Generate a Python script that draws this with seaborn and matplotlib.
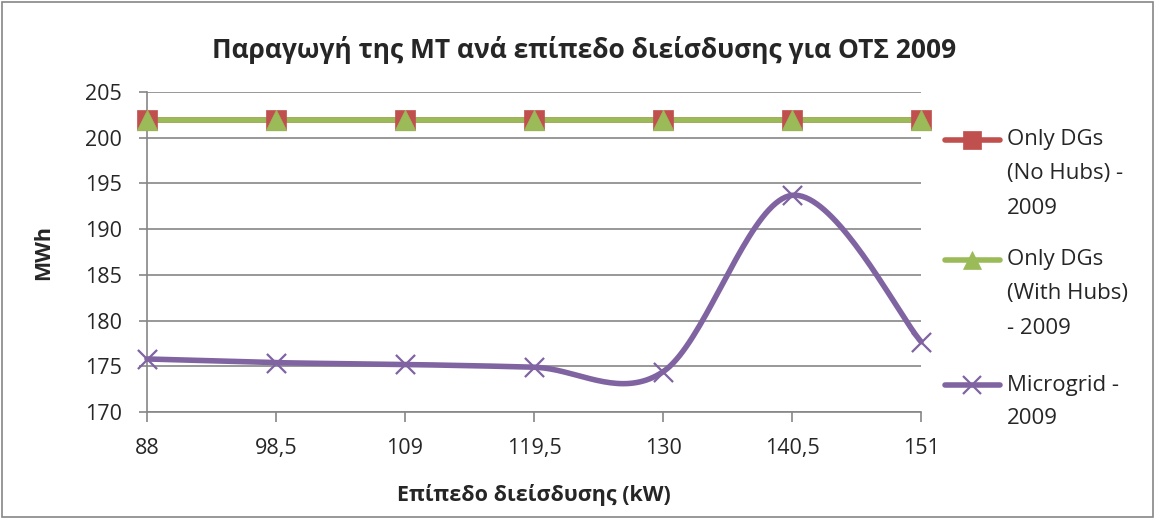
import numpy as np
import pandas as pd
import matplotlib.pyplot as plt
import seaborn as sns
from matplotlib.lines import Line2D
from matplotlib.patches import Rectangle

categories = ["88", "98,5", "109", "119,5", "130", "140,5", "151"]
no_hubs = [201.9, 201.9, 201.9, 201.9, 201.9, 201.9, 201.9]
with_hubs = [201.9, 201.9, 201.9, 201.9, 201.9, 201.9, 201.9]
microgrid = [175.8, 175.4, 175.2, 174.9, 174.4, 193.7, 177.7]

series_names = ["Only DGs\n(No Hubs) -\n2009", "Only DGs\n(With Hubs)\n- 2009", "Microgrid -\n2009"]
colors = ["#C0504D", "#9BBB59", "#8064A2"]
markers = ["s", "^", "x"]

df = pd.DataFrame({"pos": np.arange(len(categories)), "cat": categories,
                   series_names[0]: no_hubs, series_names[1]: with_hubs,
                   series_names[2]: microgrid})
long = df.melt(id_vars=["pos", "cat"], var_name="series", value_name="MWh")


def excel_smooth(x, y, n=40):
    # Excel-style smoothed line: Bezier segments with Catmull-Rom control points
    x = np.asarray(x, float)
    y = np.asarray(y, float)
    px = np.concatenate([[x[0]], x, [x[-1]]])
    py = np.concatenate([[y[0]], y, [y[-1]]])
    ox, oy = [], []
    t = np.linspace(0, 1, n)
    for i in range(1, len(px) - 2):
        p0 = np.array([px[i], py[i]])
        p3 = np.array([px[i + 1], py[i + 1]])
        p1 = p0 + (np.array([px[i + 1], py[i + 1]]) - np.array([px[i - 1], py[i - 1]])) / 6
        p2 = p3 - (np.array([px[i + 2], py[i + 2]]) - np.array([px[i], py[i]])) / 6
        b = ((1 - t) ** 3)[:, None] * p0 + (3 * (1 - t) ** 2 * t)[:, None] * p1 \
            + (3 * (1 - t) * t ** 2)[:, None] * p2 + (t ** 3)[:, None] * p3
        ox.extend(b[:, 0])
        oy.extend(b[:, 1])
    return np.array(ox), np.array(oy)


sns.set_style("white")
plt.rcParams['font.family'] = ['Open Sans', 'DejaVu Sans']

W, H = 1155, 519
fig = plt.figure(figsize=(W / 100, H / 100), dpi=100)
ax = fig.add_axes([147 / W, 1 - 412 / H, (921 - 147) / W, (412 - 92) / H])

for name, c, m in zip(series_names, colors, markers):
    sub = long[long["series"] == name]
    sx, sy = excel_smooth(sub["pos"], sub["MWh"])
    ax.plot(sx, sy, color=c, lw=4, solid_capstyle="round", zorder=3)
    if m == "x":
        sns.scatterplot(x=sub["pos"], y=sub["MWh"], ax=ax, marker="x", s=190,
                        color=c, linewidth=1.6, zorder=4, legend=False)
    else:
        sns.scatterplot(x=sub["pos"], y=sub["MWh"], ax=ax, marker=m, s=220,
                        color=c, edgecolor=c, linewidth=0.5, zorder=4, legend=False)

ax.set_xlim(0, len(categories) - 1)
ax.set_ylim(170, 205)
ax.set_yticks(np.arange(170, 206, 5))
ax.set_xticks(np.arange(len(categories)))
ax.set_xticklabels(categories)
ax.yaxis.grid(True, color="#868686", lw=1.2)
ax.xaxis.grid(False)
for s in ["top", "right"]:
    ax.spines[s].set_visible(False)
for s in ["left", "bottom"]:
    ax.spines[s].set_color("#868686")
    ax.spines[s].set_linewidth(1.2)
ax.tick_params(axis="x", length=7, color="#868686", width=1.2, labelsize=15.5, pad=12, direction="out", bottom=True)
ax.tick_params(axis="y", length=6, color="#868686", width=1.2, labelsize=15.5, pad=12, direction="out", left=True)
for coll in ax.collections + ax.lines:
    coll.set_clip_on(False)

ax.set_xlabel("Επίπεδο διείσδυσης (kW)", fontsize=15.5, fontweight="bold", labelpad=18)
ax.set_ylabel("MWh", fontsize=15.5, fontweight="bold", labelpad=22)
fig.text(0.506, 1 - 50 / H, "Παραγωγή της ΜΤ ανά επίπεδο διείσδυσης για ΟΤΣ 2009",
         ha="center", va="center", fontsize=19, fontweight="bold")

# legend drawn by hand so the handle sits on the first text line, as in Excel
entry_y = [140, 260, 385]
line_gap = 34
for name, c, m, y0 in zip(series_names, colors, markers, entry_y):
    yf = 1 - y0 / H
    fig.add_artist(Line2D([945 / W, 1000 / W], [yf, yf], transform=fig.transFigure,
                          color=c, lw=4, solid_capstyle="round"))
    fig.add_artist(Line2D([972 / W], [yf], transform=fig.transFigure, color=c,
                          marker=m, markersize=13 if m != "x" else 13,
                          markeredgewidth=1.6 if m == "x" else 0.5, markeredgecolor=c))
    for k, part in enumerate(name.split("\n")):
        fig.text(1007 / W, 1 - (y0 + k * line_gap) / H, part, ha="left", va="center",
                 fontsize=16)

fig.patches.append(Rectangle((0.002, 0.003), 0.996, 0.994, transform=fig.transFigure,
                             fill=False, edgecolor="#868686", lw=1.2))

fig.savefig("out.png", dpi=100)
